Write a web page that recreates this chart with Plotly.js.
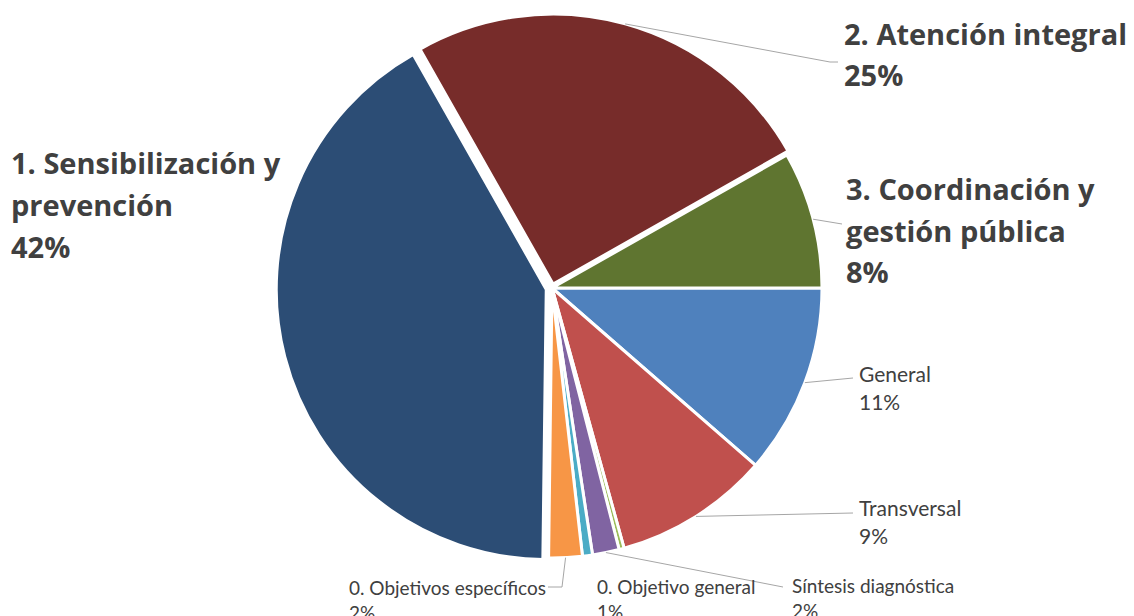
<!DOCTYPE html>
<html><head><meta charset="utf-8">
<script src="https://cdn.plot.ly/plotly-3.0.1.min.js"></script>
<style>html,body{margin:0;padding:0;background:#fff;overflow:hidden}</style>
</head><body><div id="chart" style="width:1134px;height:616px"></div>
<script>
// ---- data ----
const categories = ["General", "Transversal", "Sin asignar", "Síntesis diagnóstica", "0. Objetivo general",
  "0. Objetivos específicos", "1. Sensibilización y<br>prevención", "2. Atención integral",
  "3. Coordinación y<br>gestión pública"];
const values = [11.4, 9.3, 0.3, 1.6, 0.6, 2.0, 41.6, 25.0, 8.2];
const showLabel = [true, true, false, true, true, true, true, true, true];
const colors = ["#4f81bd", "#c0504d", "#9bbb59", "#8064a2", "#4bacc6", "#f79646", "#2c4d75", "#772c2a", "#5f7530"];
const pulls = [0, 0, 0, 0, 0, 0, 0.022, 0.015, 0];

// ---- layout constants (pixels) ----
const W = 1134, H = 616, CX = 552, CY = 288, R = 270, ROT = 90;
const maxPull = Math.max(...pulls);
const box = 2 * R * (1 + maxPull);
// label style: 0 = big bold, 1 = medium, 2 = small
const labelStyle = [1, 1, 1, 2, 2, 2, 0, 0, 0];
const styleFont = [{fam: "'Open Sans', Lato, sans-serif", size: 29, gap: 42, bold: true},
                   {fam: "Lato, 'Open Sans', sans-serif", size: 21, gap: 28, bold: false},
                   {fam: "Lato, 'Open Sans', sans-serif", size: 19, gap: 25, bold: false}];
// label placement: left x, center y of first line
const labelPos = [[857, 373], [857, 507], null, [790, 585], [595, 586], [347, 587], [9, 162], [842, 33], [844, 188]];
// leader line waypoints after the slice edge point
const leaders = [[[853, 378]], [[853, 513]], null, [[783, 587]], null, [[562, 587], [548, 587]], null, [[830, 62], [838, 62]], [[842, 224]]];

const px = x => x / W, py = y => 1 - y / H;

const total = values.reduce((a, b) => a + b, 0);
const shapes = [], annotations = [];
let cum = 0;
values.forEach((v, i) => {
  const mid = (ROT + 360 * (cum + v / 2) / total) * Math.PI / 180;
  cum += v;
  const rr = R * (1 + pulls[i]);
  const sx = CX + rr * Math.sin(mid), sy = CY - rr * Math.cos(mid);
  if (leaders[i]) {
    let prev = [sx, sy];
    leaders[i].forEach(p => {
      shapes.push({type: "line", xref: "paper", yref: "paper", x0: px(prev[0]), y0: py(prev[1]),
        x1: px(p[0]), y1: py(p[1]), line: {color: "#a6a6a6", width: 1}});
      prev = p;
    });
  }
  if (showLabel[i]) {
    const st = styleFont[labelStyle[i]];
    const lines = categories[i].split("<br>").concat([Math.round(v / total * 100) + "%"]);
    lines.forEach((t, k) => {
      annotations.push({xref: "paper", yref: "paper", x: px(labelPos[i][0]), y: py(labelPos[i][1] + k * st.gap),
        xanchor: "left", yanchor: "middle", showarrow: false, text: st.bold ? "<b>" + t + "</b>" : t,
        font: {family: st.fam, size: st.size, color: "#404040"}});
    });
  }
});

const trace = {
  type: "pie", labels: categories, values: values, sort: false, direction: "clockwise", rotation: ROT,
  pull: pulls, textinfo: "none", hoverinfo: "label+percent",
  marker: {colors: colors, line: {color: "#ffffff", width: 3}},
  domain: {x: [(CX - 300) / W, (CX + 300) / W], y: [1 - (CY + box / 2) / H, 1 - (CY - box / 2) / H]}
};

Plotly.newPlot("chart", [trace], {
  width: W, height: H, margin: {l: 0, r: 0, t: 0, b: 0}, showlegend: false,
  paper_bgcolor: "#ffffff", shapes: shapes, annotations: annotations
}, {displayModeBar: false, staticPlot: true});
</script></body></html>
